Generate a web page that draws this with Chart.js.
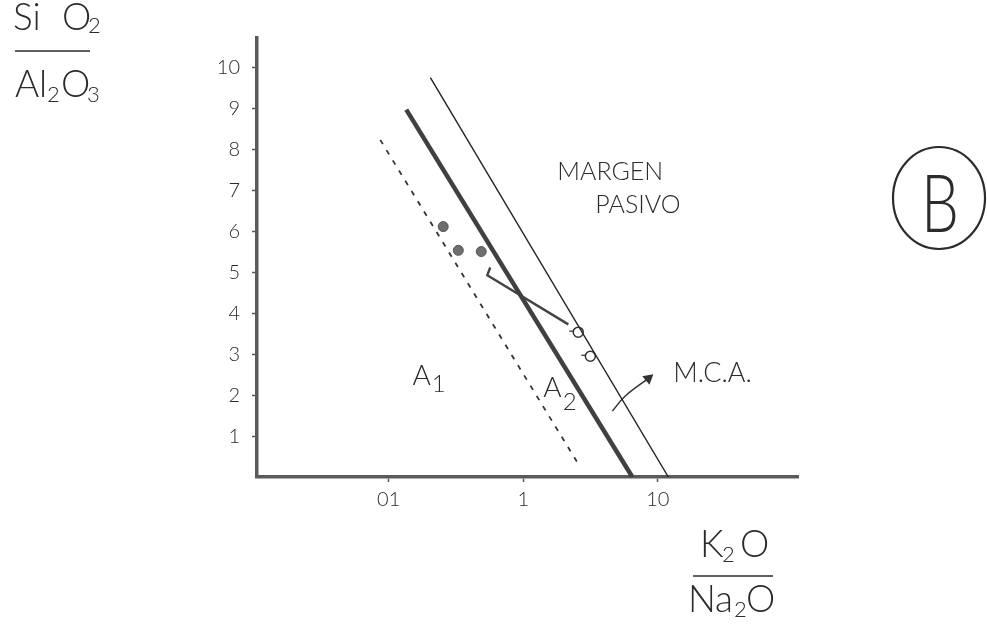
<!DOCTYPE html>
<html>
<head>
<meta charset="utf-8">
<script src="https://cdn.jsdelivr.net/npm/chart.js@4.4.0/dist/chart.umd.min.js"></script>
<style>
  html, body { margin: 0; padding: 0; background: #fff; }
  #chart { display: block; }
</style>
</head>
<body>
<canvas id="chart" width="987" height="624"></canvas>
<script>
// K2O/Na2O (log) against SiO2/Al2O3
var xTicks = [0.1, 1, 10]
var xTickLabels = ["01", "1", "10"]
var yTicks = [1, 2, 3, 4, 5, 6, 7, 8, 9, 10]

// boundary lines
var thickX = [0.135, 6.46]
var thickY = [8.98, 0]
var thinX = [0.204, 11.97]
var thinY = [9.76, 0]
var dashedX = [0.0865, 2.65]
var dashedY = [8.24, 0.24]

// samples
var filledX = [0.254, 0.329, 0.487]
var filledY = [6.12, 5.54, 5.51]
var openX = [2.56, 3.15]
var openY = [3.54, 2.95]
var trendX = [0.568, 0.540, 2.16]
var trendY = [5.12, 4.93, 3.73]
var arrowX = [4.59, 5.73, 8.50]
var arrowY = [1.61, 1.98, 2.41]

// labels inside the plot
var regionLabels = ["MARGEN", "PASIVO", "M.C.A."]
var regionX = [1.79, 3.43, 13.0]
var regionY = [7.26, 6.45, 2.32]
var fieldLabels = ["A", "A"]
var fieldSubs = ["1", "2"]
var fieldX = [0.150, 1.41]
var fieldY = [2.25, 1.96]

var ink = '#2b2b2b'
var face = 'Lato, "Open Sans", sans-serif'

function pts(xs, ys) {
    var out = []
    for (var i = 0; i < xs.length; i++) {
        out.push({x: xs[i], y: ys[i]})
    }
    return out
}

function put(ctx, txt, x, y, size) {
    ctx.font = '300 ' + size + 'px ' + face
    ctx.fillText(txt, x, y)
    return x + ctx.measureText(txt).width
}

var notes = {
    id: 'notes',
    afterDraw: function(chart) {
        var ctx = chart.ctx
        var sx = chart.scales.x, sy = chart.scales.y
        var a = chart.chartArea
        ctx.save()
        ctx.fillStyle = ink
        ctx.strokeStyle = ink
        ctx.textAlign = 'left'
        ctx.textBaseline = 'alphabetic'

        for (var i = 0; i < regionLabels.length; i++) {
            put(ctx, regionLabels[i], sx.getPixelForValue(regionX[i]), sy.getPixelForValue(regionY[i]), i == 2 ? 27 : 25)
        }
        var subDrop = [7, 13]
        for (var j = 0; j < fieldLabels.length; j++) {
            var px = sx.getPixelForValue(fieldX[j]), py = sy.getPixelForValue(fieldY[j])
            var e = put(ctx, fieldLabels[j], px, py, 28)
            put(ctx, fieldSubs[j], e + 1, py + subDrop[j], 24)
        }

        // little tails on the open circles
        ctx.lineWidth = 1.2
        for (var k = 0; k < openX.length; k++) {
            var ox = sx.getPixelForValue(openX[k]), oy = sy.getPixelForValue(openY[k])
            ctx.beginPath(); ctx.moveTo(ox - 9, oy - 1); ctx.lineTo(ox - 5, oy - 1); ctx.stroke()
        }

        // y axis title, written as a fraction top left
        var L = a.left
        put(ctx, 'Si', L - 244, 30, 37)
        put(ctx, 'O', L - 195, 30, 37)
        put(ctx, '2', L - 169, 33, 22)
        ctx.lineWidth = 1.5
        ctx.beginPath(); ctx.moveTo(L - 242, 51); ctx.lineTo(L - 167, 51); ctx.stroke()
        put(ctx, 'Al', L - 242, 97, 37)
        put(ctx, '2', L - 210, 102, 22)
        put(ctx, 'O', L - 196, 97, 37)
        put(ctx, '3', L - 170, 102, 22)

        // x axis title under the axis
        var R = a.right, B = a.bottom
        put(ctx, 'K', R - 98, B + 80, 37)
        put(ctx, '2', R - 76, B + 85, 22)
        put(ctx, 'O', R - 58, B + 80, 37)
        ctx.beginPath(); ctx.moveTo(R - 105, B + 99); ctx.lineTo(R - 25, B + 99); ctx.stroke()
        put(ctx, 'N', R - 110, B + 135, 37)
        var e2 = put(ctx, 'a', R - 83, B + 135, 37)
        put(ctx, '2', e2 + 1, B + 140, 22)
        put(ctx, 'O', R - 52, B + 135, 37)

        // circled B
        ctx.lineWidth = 2.2
        ctx.beginPath()
        ctx.ellipse(939, 198, 46, 51, 0, 0, Math.PI * 2)
        ctx.stroke()
        ctx.save()
        ctx.translate(940, 232)
        ctx.scale(0.75, 1)
        ctx.textAlign = 'center'
        ctx.font = '300 80px ' + face
        ctx.fillText('B', 0, 0)
        ctx.restore()

        ctx.restore()
    }
}

var tickFont = {family: face, size: 20, weight: 300}

var chart = new Chart('chart', {
    type: 'scatter',
    data: {
        datasets: [
            {
                label: 'limite grueso',
                data: pts(thickX, thickY),
                showLine: true,
                borderColor: '#404040',
                borderWidth: 4.5,
                pointRadius: 0
            },
            {
                label: 'limite fino',
                data: pts(thinX, thinY),
                showLine: true,
                borderColor: '#222',
                borderWidth: 1.4,
                pointRadius: 0
            },
            {
                label: 'limite punteado',
                data: pts(dashedX, dashedY),
                showLine: true,
                borderColor: '#333',
                borderWidth: 1.8,
                borderDash: [5, 7],
                pointRadius: 0
            },
            {
                label: 'tendencia',
                data: pts(trendX, trendY),
                showLine: true,
                borderColor: '#444',
                borderWidth: 2.4,
                pointRadius: 0
            },
            {
                label: 'muestras llenas',
                data: pts(filledX, filledY),
                pointRadius: 5,
                pointBackgroundColor: '#6e6e6e',
                pointBorderColor: '#555',
                pointBorderWidth: 1
            },
            {
                label: 'muestras vacias',
                data: pts(openX, openY),
                pointRadius: 5,
                pointBackgroundColor: '#fff',
                pointBorderColor: '#333',
                pointBorderWidth: 1.5
            },
            {
                label: 'flecha',
                data: pts(arrowX, arrowY),
                showLine: true,
                tension: 0.4,
                borderColor: '#333',
                borderWidth: 1.5,
                pointStyle: 'triangle',
                pointRadius: [0, 0, 5],
                pointRotation: 50,
                pointBackgroundColor: '#333',
                pointBorderColor: '#333'
            }
        ]
    },
    options: {
        responsive: false,
        animation: false,
        layout: {padding: {top: 38, right: 189, left: 0, bottom: 0}},
        plugins: {
            legend: {display: false},
            tooltip: {enabled: false}
        },
        scales: {
            x: {
                type: 'logarithmic',
                min: 0.0105,
                max: 110,
                afterFit: function(s) { s.height = 147 },
                afterBuildTicks: function(s) { s.ticks = xTicks.map(function(v) { return {value: v} }) },
                ticks: {
                    callback: function(v) {
                        var k = xTicks.indexOf(v)
                        return k < 0 ? '' : xTickLabels[k]
                    },
                    font: tickFont,
                    color: ink,
                    padding: 6,
                    maxRotation: 0,
                    autoSkip: false
                },
                grid: {drawOnChartArea: false, drawTicks: true, tickLength: 5, tickColor: '#555', tickWidth: 1.5},
                border: {display: true, color: '#5a5a5a', width: 3.5}
            },
            y: {
                min: 0,
                max: 10.73,
                afterFit: function(s) { s.width = 257 },
                afterBuildTicks: function(s) { s.ticks = yTicks.map(function(v) { return {value: v} }) },
                ticks: {
                    font: tickFont,
                    color: ink,
                    padding: 12,
                    autoSkip: false
                },
                grid: {drawOnChartArea: false, drawTicks: true, tickLength: 5, tickColor: '#555', tickWidth: 1.5},
                border: {display: true, color: '#5a5a5a', width: 3.5}
            }
        }
    },
    plugins: [notes]
})
</script>
</body>
</html>
